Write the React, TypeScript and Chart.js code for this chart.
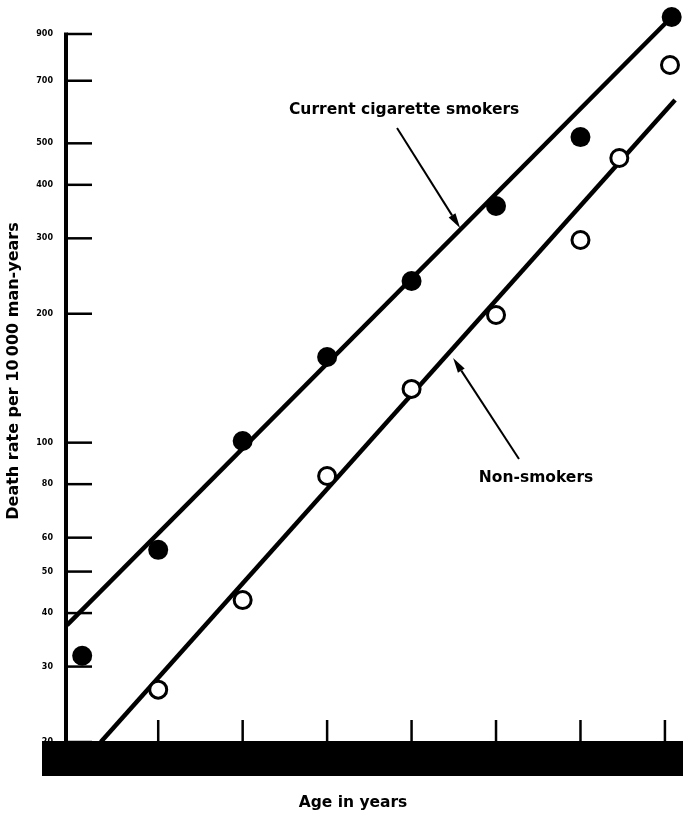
import React, { useEffect, useRef } from "react";
import { Chart, registerables } from "chart.js";

Chart.register(...registerables);

// ---- Data ----
const yTickValues = [20, 30, 40, 50, 60, 80, 100, 200, 300, 400, 500, 700, 900];
const xTickAges = [40, 45, 50, 55, 60, 65, 70];
const xMin = 34.6;
const xMax = 71.07;
const yMin = 20;
const yMax = 1035; // headroom above the 900 tick for the last smokers' point
const yAxisTop = 900; // drawn axis line stops at the top tick

const smokerAges = [35.5, 40, 45, 50, 55, 60, 65, 70.4];
const smokerRates = [31.8, 56.2, 100.9, 158.5, 238.5, 356.9, 517, 986];

const nonSmokerAges = [40, 45, 50, 55, 60, 65, 67.3, 70.3];
const nonSmokerRates = [26.5, 42.9, 83.6, 133.5, 198.7, 297.3, 462, 762];

const smokerFitAges = [34.6, 70.4];
const smokerFitRates = [37.5, 986];
const nonSmokerFitAges = [36.6, 70.6];
const nonSmokerFitRates = [20, 631];

const labelTexts = ["Current cigarette smokers", "Non-smokers"];
const labelAges = [54.56, 62.37];
const labelRates = [598, 82.7];
const arrowTailAges = [54.14, 61.36];
const arrowTailRates = [543, 91.6];
const arrowTipAges = [57.87, 57.46];
const arrowTipRates = [317, 157.6];

const xTitle = "Age in years";
const yTitle = "Death rate per 10\u2009000 man-years";

const FONT = '"DejaVu Sans", "Liberation Sans", Arial, sans-serif';

const zip = (xs: number[], ys: number[]) => xs.map((x, i) => ({ x, y: ys[i] }));

const decorPlugin = {
  id: "decor",
  afterDraw(chart: any) {
    const { ctx, chartArea: a, scales } = chart;
    const x = scales.x;
    const y = scales.y;
    ctx.save();
    ctx.strokeStyle = "#000";
    ctx.fillStyle = "#000";
    ctx.lineCap = "butt";
    // y axis line
    ctx.lineWidth = 4;
    ctx.beginPath();
    ctx.moveTo(a.left - 1, y.getPixelForValue(yAxisTop) - 1.5);
    ctx.lineTo(a.left - 1, a.bottom);
    ctx.stroke();
    ctx.lineWidth = 2.5;
    // y tick marks (pointing into the plot)
    for (const t of y.ticks) {
      const py = y.getPixelForValue(t.value);
      ctx.beginPath();
      ctx.moveTo(a.left, py);
      ctx.lineTo(a.left + 25, py);
      ctx.stroke();
    }
    // x tick marks (pointing up from the bar)
    for (const t of x.ticks) {
      const px = x.getPixelForValue(t.value);
      ctx.beginPath();
      ctx.moveTo(px, a.bottom);
      ctx.lineTo(px, a.bottom - 22);
      ctx.stroke();
    }
    // thick black base bar
    ctx.fillRect(a.left - 25, a.bottom - 1, chart.width - (a.left - 25), 35);

    // arrows
    for (let i = 0; i < labelTexts.length; i++) {
      const x0 = x.getPixelForValue(arrowTailAges[i]);
      const y0 = y.getPixelForValue(arrowTailRates[i]);
      const x1 = x.getPixelForValue(arrowTipAges[i]);
      const y1 = y.getPixelForValue(arrowTipRates[i]);
      const ang = Math.atan2(y1 - y0, x1 - x0);
      const headLen = 15;
      const headW = 4;
      const bx = x1 - headLen * Math.cos(ang);
      const by = y1 - headLen * Math.sin(ang);
      ctx.lineWidth = 2;
      ctx.beginPath();
      ctx.moveTo(x0, y0);
      ctx.lineTo(bx, by);
      ctx.stroke();
      ctx.beginPath();
      ctx.moveTo(x1, y1);
      ctx.lineTo(bx + headW * Math.sin(ang), by - headW * Math.cos(ang));
      ctx.lineTo(bx - headW * Math.sin(ang), by + headW * Math.cos(ang));
      ctx.closePath();
      ctx.fill();
    }
    // annotation labels
    ctx.font = `bold 15.5px ${FONT}`;
    ctx.textAlign = "center";
    ctx.textBaseline = "middle";
    for (let i = 0; i < labelTexts.length; i++) {
      ctx.fillText(
        labelTexts[i],
        x.getPixelForValue(labelAges[i]),
        y.getPixelForValue(labelRates[i])
      );
    }
    // axis titles
    ctx.font = `bold 15.5px ${FONT}`;
    ctx.fillText(xTitle, (a.left + a.right) / 2 - 22, a.bottom + 61);
    ctx.save();
    ctx.font = `bold 16px ${FONT}`;
    ctx.translate(14, 371);
    ctx.rotate(-Math.PI / 2);
    ctx.fillText(yTitle, 0, 0);
    ctx.restore();
    ctx.restore();
  },
};

export default function App() {
  const ref = useRef<HTMLCanvasElement | null>(null);
  useEffect(() => {
    document.body.style.margin = "0";
    const canvas = ref.current;
    if (!canvas) return;
    const chart = new Chart(canvas, {
      type: "scatter",
      data: {
        datasets: [
          {
            label: "Current cigarette smokers",
            data: zip(smokerAges, smokerRates),
            showLine: false,
            pointRadius: 10,
            pointBackgroundColor: "#000",
            pointBorderColor: "#000",
            pointBorderWidth: 0,
            clip: false as any,
            order: 0,
          },
          {
            label: "Non-smokers",
            data: zip(nonSmokerAges, nonSmokerRates),
            showLine: false,
            pointRadius: 8.5,
            pointBackgroundColor: "#fff",
            pointBorderColor: "#000",
            pointBorderWidth: 3,
            clip: false as any,
            order: 0,
          },
          {
            label: "Smokers fit",
            data: zip(smokerFitAges, smokerFitRates),
            showLine: true,
            pointRadius: 0,
            borderColor: "#000",
            borderWidth: 4.5,
            clip: false as any,
            order: 1,
          },
          {
            label: "Non-smokers fit",
            data: zip(nonSmokerFitAges, nonSmokerFitRates),
            showLine: true,
            pointRadius: 0,
            borderColor: "#000",
            borderWidth: 4.5,
            clip: false as any,
            order: 1,
          },
        ],
      },
      options: {
        responsive: false,
        animation: false,
        devicePixelRatio: 1,
        layout: { autoPadding: false, padding: { top: 8, left: 0, right: 0, bottom: 0 } },
        plugins: {
          legend: { display: false },
          tooltip: { enabled: false },
        },
        scales: {
          x: {
            type: "linear",
            min: xMin,
            max: xMax,
            afterBuildTicks: (s: any) => {
              s.ticks = xTickAges.map((v) => ({ value: v }));
            },
            afterFit: (s: any) => {
              s.height = 72;
              s.paddingLeft = 0;
              s.paddingRight = 0;
            },
            ticks: { display: false },
            grid: { display: false, drawTicks: false },
            border: { display: false },
          },
          y: {
            type: "logarithmic",
            min: yMin,
            max: yMax,
            afterBuildTicks: (s: any) => {
              s.ticks = yTickValues.map((v) => ({ value: v }));
            },
            afterFit: (s: any) => {
              s.width = 67;
              s.paddingTop = 0;
              s.paddingBottom = 0;
            },
            ticks: {
              autoSkip: false,
              padding: 14,
              color: "#000",
              font: { family: FONT, weight: "bold", size: 8 },
              callback: (v: any) => String(v),
            },
            grid: { display: false, drawTicks: false },
            border: { display: false },
          },
        },
      },
      plugins: [decorPlugin],
    });
    return () => chart.destroy();
  }, []);
  return (
    <div style={{ width: 683, height: 814 }}>
      <canvas ref={ref} width={683} height={814} style={{ display: "block" }} />
    </div>
  );
}
